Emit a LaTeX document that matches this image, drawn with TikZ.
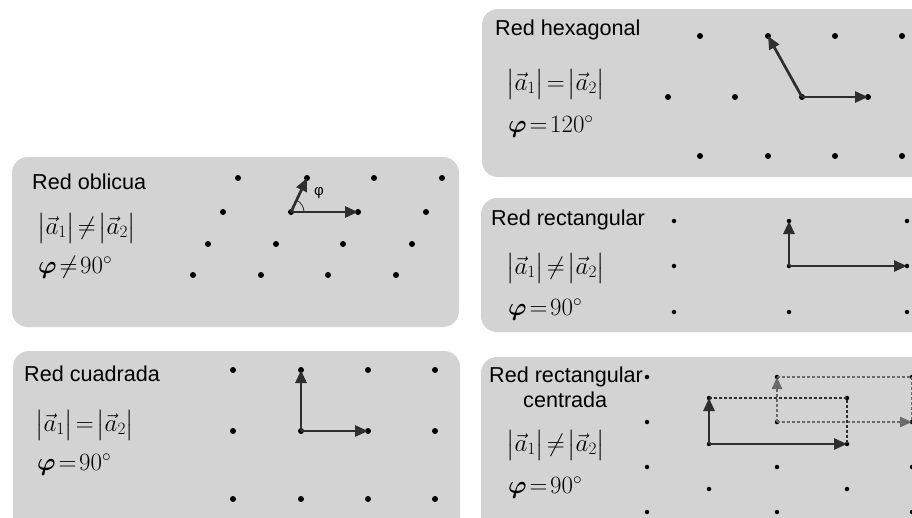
\documentclass[tikz,border=0pt]{standalone}
\usepackage{fontspec}
\setmainfont{Liberation Sans}
\usepackage{amsmath,bm}
\usetikzlibrary{arrows.meta}
\definecolor{panel}{HTML}{D3D3D3}
\definecolor{ink}{HTML}{2E2E2E}
\definecolor{ghost}{HTML}{6A6A6A}
\tikzset{
  panelbox/.style={fill=panel, rounded corners=16pt},
  dot/.style={circle, fill=black, inner sep=0pt, minimum size=6pt},
  smalldot/.style={circle, fill=black, inner sep=0pt, minimum size=4.5pt},
  vec/.style={draw=ink, line width=2.7pt, -{Triangle[length=13pt,width=11pt]}},
  ghostvec/.style={draw=ghost, line width=2.2pt, dash pattern=on 3pt off 2pt, -{Triangle[length=12pt,width=10pt]}},
  cellline/.style={draw=ink, line width=2.2pt, dash pattern=on 3pt off 2pt},
  ghostline/.style={draw=ghost, line width=2.2pt, dash pattern=on 3pt off 2pt},
  title/.style={anchor=west, inner sep=0pt, font=\fontsize{21.6}{25}\selectfont},
  formula/.style={anchor=west, inner sep=0pt, font=\fontsize{23}{27}\selectfont},
  angfont/.style={inner sep=0pt, font=\fontsize{15}{17}\selectfont},
}
% tight relation spacing for the lattice formulas
\newcommand{\tightrel}{\thickmuskip=2mu\relax}
\newcommand{\modeq}{$\tightrel\bigl|\vec{a}_1\bigr| = \bigl|\vec{a}_2\bigr|$}
\newcommand{\modneq}{$\tightrel\bigl|\vec{a}_1\bigr| \neq \bigl|\vec{a}_2\bigr|$}
\newcommand{\angval}[2]{$\tightrel\bm{\varphi} #1 #2^{\circ}$}
\begin{document}
\begin{tikzpicture}[x=1pt, y=-1pt]
\useasboundingbox (0,0) rectangle (912,517);
\clip (0,0) rectangle (912,517);

% panels
\fill[panelbox] (12,157) rectangle (459,327);
\fill[panelbox] (482,9) rectangle (940,177);
\fill[panelbox] (481,198) rectangle (940,332);
\fill[panelbox] (13,351) rectangle (460,545);
\fill[panelbox] (481,357) rectangle (940,545);

% ---------- oblique lattice ----------
\node[title] (tObl) at (32,182) {Red oblicua};
\node[formula] (fObl1) at (37,228) {\modneq};
\node[formula] (fObl2) at (38,267) {\angval{\neq}{90}};
\foreach \x [count=\i] in {238,307,374,442} \node[dot] (o1\i) at (\x,178) {};
\foreach \x [count=\i] in {223,291,358,426} \node[dot] (o2\i) at (\x,212) {};
\foreach \x [count=\i] in {208,276,343,412} \node[dot] (o3\i) at (\x,244) {};
\foreach \x [count=\i] in {193,261,328,396} \node[dot] (o4\i) at (\x,275) {};
\draw[ink, line width=0.8pt] (o22.center) ++(13,0) arc[start angle=0, end angle=-65, radius=13];
\node[angfont] (phiObl) at (319,193) {φ};
\draw[vec] (o22.center) -- (o23.center);
\draw[vec] (o22.center) -- (o12.center);

% ---------- hexagonal lattice ----------
\node[title] (tHex) at (495,30) {Red hexagonal};
\node[formula] (fHex1) at (506,84) {\modeq};
\node[formula] (fHex2) at (508,127) {\angval{=}{120}};
\foreach \x [count=\i] in {700,768,835,902} \node[dot] (h1\i) at (\x,36) {};
\foreach \x [count=\i] in {668,735,802,868} \node[dot] (h2\i) at (\x,97) {};
\foreach \x [count=\i] in {700,768,835,902} \node[dot] (h3\i) at (\x,156) {};
\draw[vec] (h23.center) -- (h24.center);
\draw[vec] (h23.center) -- (h12.center);

% ---------- rectangular lattice ----------
\node[title] (tRec) at (491,220) {Red rectangular};
\node[formula] (fRec1) at (506,268) {\modneq};
\node[formula] (fRec2) at (508,310) {\angval{=}{90}};
\foreach \y [count=\j] in {221,266,312}
  \foreach \x [count=\i] in {674,789,907}
    \node[smalldot] (r\j\i) at (\x,\y) {};
\draw[vec] (r22.center) -- (r23.center);
\draw[vec] (r22.center) -- (r12.center);

% ---------- square lattice ----------
\node[title] (tSq) at (24,374) {Red cuadrada};
\node[formula] (fSq1) at (35,425) {\modeq};
\node[formula] (fSq2) at (37,465) {\angval{=}{90}};
\foreach \y [count=\j] in {370,431,499}
  \foreach \x [count=\i] in {233,301,368,435}
    \node[dot] (s\j\i) at (\x,\y) {};
\draw[vec] (s22.center) -- (s23.center);
\draw[vec] (s22.center) -- (s12.center);

% ---------- centred rectangular lattice ----------
\node[title] (tCen) at (489,377) {Red rectangular};
\node[title] (tCen2) at (523,400) {centrada};
\node[formula] (fCen1) at (506,445) {\modneq};
\node[formula] (fCen2) at (508,488) {\angval{=}{90}};
\foreach \y [count=\j] in {377,422,467,512}
  \foreach \x [count=\i] in {647,777,912}
    \node[smalldot] (k\j\i) at (\x,\y) {};
\foreach \y [count=\j] in {398,444,489}
  \foreach \x [count=\i] in {709,847}
    \node[smalldot] (c\j\i) at (\x,\y) {};
% primitive cell (grey)
\draw[ghostline] (k12.center) -- (k13.center) -- (k23.center);
\draw[ghostvec] (k22.center) -- (k23.center);
\draw[ghostvec] (k22.center) -- (k12.center);
% conventional cell
\draw[cellline] (c11.center) -- (c12.center) -- (c22.center);
\draw[vec] (c21.center) -- (c22.center);
\draw[vec] (c21.center) -- (c11.center);
\end{tikzpicture}
\end{document}
